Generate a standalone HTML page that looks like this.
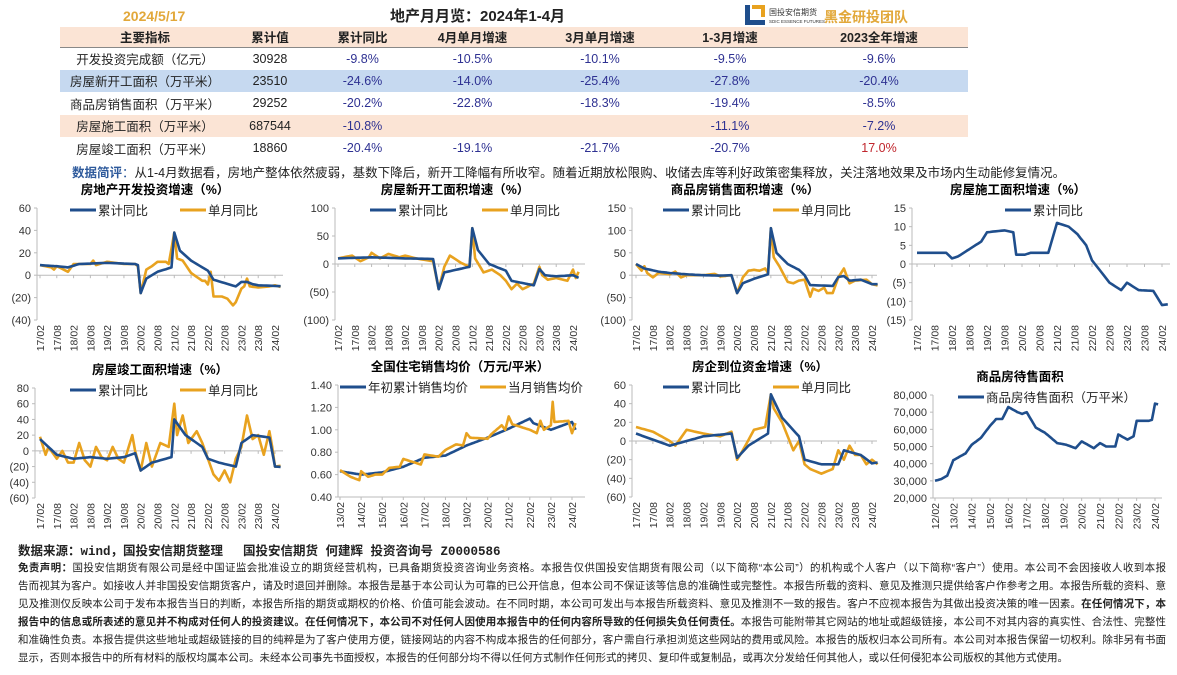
<!DOCTYPE html>
<html><head><meta charset="utf-8">
<style>
*{margin:0;padding:0;box-sizing:border-box}
body{width:1177px;height:675px;background:#fff;position:relative;overflow:hidden;font-family:"Liberation Sans","Noto Sans CJK SC",sans-serif;color:#222}
.abs{position:absolute}
table{position:absolute;left:60px;top:27px;width:908px;border-collapse:collapse;font-size:12.5px}
td{height:22.5px;text-align:center;padding:0;white-space:nowrap}
tr.h td{font-weight:bold;background:#fbe4d5;height:20px;border-bottom:1px solid #888}
tr.s td{background:#fbe4d5}
tr.b td{background:#c6d9f0}
.n{color:#2e3192}
.r{color:#c0262d}
.disc div{position:absolute;left:18px;width:1148px;font-size:10.5px;text-align:justify;text-align-last:justify;white-space:nowrap;color:#222;line-height:14px}
</style></head><body>
<div class="abs" style="left:123px;top:8px;font-size:14px;font-weight:bold;color:#e2a83a">2024/5/17</div>
<div class="abs" style="left:390px;top:5px;font-size:15px;font-weight:bold">地产月月览：2024年1-4月</div>
<div class="abs" style="left:745px;top:5px;width:20px;height:20px;border-left:5px solid #1f4e8c;border-bottom:5px solid #1f4e8c"></div>
<div class="abs" style="left:752px;top:5px;width:13px;height:12px;border-top:4px solid #e8a21f;border-right:4px solid #e8a21f"></div>
<div class="abs" style="left:769px;top:7px;font-size:8px;color:#333;white-space:nowrap">国投安信期货</div>
<div class="abs" style="left:769px;top:19px;font-size:4.5px;color:#333;white-space:nowrap">SDIC ESSENCE FUTURES</div>
<div class="abs" style="left:824px;top:7px;font-size:14px;font-weight:bold;color:#e2a83a">黑金研投团队</div>
<table>
<colgroup><col style="width:170px"><col style="width:80px"><col style="width:105px"><col style="width:115px"><col style="width:140px"><col style="width:120px"><col style="width:178px"></colgroup>
<tr class="h"><td>主要指标</td><td>累计值</td><td>累计同比</td><td>4月单月增速</td><td>3月单月增速</td><td>1-3月增速</td><td>2023全年增速</td></tr>
<tr><td>开发投资完成额（亿元）</td><td>30928</td><td class="n">-9.8%</td><td class="n">-10.5%</td><td class="n">-10.1%</td><td class="n">-9.5%</td><td class="n">-9.6%</td></tr>
<tr class="b"><td>房屋新开工面积（万平米）</td><td>23510</td><td class="n">-24.6%</td><td class="n">-14.0%</td><td class="n">-25.4%</td><td class="n">-27.8%</td><td class="n">-20.4%</td></tr>
<tr><td>商品房销售面积（万平米）</td><td>29252</td><td class="n">-20.2%</td><td class="n">-22.8%</td><td class="n">-18.3%</td><td class="n">-19.4%</td><td class="n">-8.5%</td></tr>
<tr class="s"><td>房屋施工面积（万平米）</td><td>687544</td><td class="n">-10.8%</td><td></td><td></td><td class="n">-11.1%</td><td class="n">-7.2%</td></tr>
<tr><td>房屋竣工面积（万平米）</td><td>18860</td><td class="n">-20.4%</td><td class="n">-19.1%</td><td class="n">-21.7%</td><td class="n">-20.7%</td><td class="r">17.0%</td></tr>
</table>
<div class="abs" style="left:72px;top:162px;font-size:12.5px"><b style="color:#2e5a9c">数据简评</b><span style="color:#2e5a9c">：</span>从1-4月数据看，房地产整体依然疲弱，基数下降后，新开工降幅有所收窄。随着近期放松限购、收储去库等利好政策密集释放，关注落地效果及市场内生动能修复情况。</div>

<svg id="ch" class="abs" style="left:0;top:0" width="1177" height="675" xmlns="http://www.w3.org/2000/svg"></svg>

<div class="abs" style="left:18px;top:540px;font-size:12.5px;font-weight:bold;font-family:'Liberation Mono','Noto Sans CJK SC',monospace">数据来源：wind，国投安信期货整理　 国投安信期货 何建辉 投资咨询号 Z0000586</div>
<div class="disc">
<div style="top:561px"><b>免责声明：</b>国投安信期货有限公司是经中国证监会批准设立的期货经营机构，已具备期货投资咨询业务资格。本报告仅供国投安信期货有限公司（以下简称“本公司”）的机构或个人客户（以下简称“客户”）使用。本公司不会因接收人收到本报</div>
<div style="top:579px">告而视其为客户。如接收人并非国投安信期货客户，请及时退回并删除。本报告是基于本公司认为可靠的已公开信息，但本公司不保证该等信息的准确性或完整性。本报告所载的资料、意见及推测只提供给客户作参考之用。本报告所载的资料、意</div>
<div style="top:597px">见及推测仅反映本公司于发布本报告当日的判断，本报告所指的期货或期权的价格、价值可能会波动。在不同时期，本公司可发出与本报告所载资料、意见及推测不一致的报告。客户不应视本报告为其做出投资决策的唯一因素。<b>在任何情况下，本</b></div>
<div style="top:615px"><b>报告中的信息或所表述的意见并不构成对任何人的投资建议。在任何情况下，本公司不对任何人因使用本报告中的任何内容所导致的任何损失负任何责任。</b>本报告可能附带其它网站的地址或超级链接，本公司不对其内容的真实性、合法性、完整性</div>
<div style="top:633px">和准确性负责。本报告提供这些地址或超级链接的目的纯粹是为了客户使用方便，链接网站的内容不构成本报告的任何部分，客户需自行承担浏览这些网站的费用或风险。本报告的版权归本公司所有。本公司对本报告保留一切权利。除非另有书面</div>
<div style="top:651px;text-align-last:left;width:auto">显示，否则本报告中的所有材料的版权均属本公司。未经本公司事先书面授权，本报告的任何部分均不得以任何方式制作任何形式的拷贝、复印件或复制品，或再次分发给任何其他人，或以任何侵犯本公司版权的其他方式使用。</div>
</div>

<script>
var svg=document.getElementById('ch');var out='';
var BL='#1f4e8c',OR='#e8a21f';
function lab17(){var a=[];for(var y=17;y<=24;y++){a.push(y+'/02');if(y<24)a.push(y+'/08');}return a;}
function labY(s,e){var a=[];for(var y=s;y<=e;y++)a.push((y<10?'0':'')+y+'/02');return a;}
function interp(k,n){var r=[];for(var m=0;m<=n;m++){for(var i=0;i<k.length-1;i++){if(m>=k[i][0]&&m<=k[i+1][0]){var t=(m-k[i][0])/((k[i+1][0]-k[i][0])||1);r.push([m,k[i][1]+t*(k[i+1][1]-k[i][1])]);break;}}}return r;}
function chart(c){
 var Y=function(v){return c.yt+(c.ymax-v)/(c.ymax-c.ymin)*(c.yb-c.yt);};
 var sp=(c.lx1-c.lx0)/(c.labels.length-1);
 var X=function(m){return c.lx0+m/c.ls*sp;};
 out+='<text x="'+c.tx+'" y="'+(c.yt-14)+'" font-size="12.5" font-weight="bold" text-anchor="middle">'+c.title+'</text>';
 out+='<line x1="'+c.ax+'" y1="'+c.yt+'" x2="'+c.ax+'" y2="'+c.yb+'" stroke="#bbb"/>';
 for(var v=c.ymax;v>=c.ymin-1e-9;v-=c.st){var y=Y(v);
  out+='<line x1="'+(c.ax-3)+'" y1="'+y+'" x2="'+c.ax+'" y2="'+y+'" stroke="#bbb"/>';
  out+='<text x="'+(c.ax-6)+'" y="'+(y+4)+'" font-size="11" text-anchor="end" fill="#333">'+c.fmt(v)+'</text>';}
 var z=c.ymin<0?Y(0):c.yb;
 out+='<line x1="'+c.ax+'" y1="'+z+'" x2="'+c.rx+'" y2="'+z+'" stroke="#bbb"/>';
 c.labels.forEach(function(l,i){var x=c.lx0+i*sp;
  out+='<line x1="'+x+'" y1="'+z+'" x2="'+x+'" y2="'+(z+3)+'" stroke="#bbb"/>';
  out+='<text transform="translate('+(x+4)+','+(c.yb+5)+') rotate(-90)" font-size="10.5" text-anchor="end" fill="#333">'+l+'</text>';});
 c.series.forEach(function(s){var p=interp(s.k,c.n).map(function(q){return X(q[0]).toFixed(1)+','+Y(q[1]).toFixed(1);}).join(' ');
  out+='<polyline points="'+p+'" fill="none" stroke="'+s.c+'" stroke-width="2.6" stroke-linejoin="round"/>';});
 c.leg.forEach(function(l){out+='<line x1="'+l[0]+'" y1="'+(c.yt+2)+'" x2="'+(l[0]+26)+'" y2="'+(c.yt+2)+'" stroke="'+l[2]+'" stroke-width="3"/><text x="'+(l[0]+28)+'" y="'+(c.yt+7)+'" font-size="12.5" fill="#222">'+l[1]+'</text>';});
}
var pf=function(v){v=Math.round(v);return v<0?'('+(-v)+')':''+v;};
var L=lab17();
chart({title:'房地产开发投资增速（%）',tx:155,ax:37,rx:283,yt:208,yb:320,ymax:60,ymin:-40,st:20,fmt:pf,labels:L,lx0:40,lx1:275,ls:6,n:86,
 leg:[[70,'累计同比',BL],[180,'单月同比',OR]],
 series:[{c:OR,k:[[0,9],[4,7],[5,5],[6,8],[10,3],[12,10],[18,10],[19,13],[20,9],[24,12],[30,10],[34,10],[35,8],[36,-16],[38,5],[40,8],[42,12],[45,12],[46,10],[48,38],[49,15],[51,13],[54,2],[58,-5],[59,-5],[59.5,-14],[61,3],[62,-19],[65,-19],[67,-21],[69,-27],[70,-24],[72,-12],[73,-10],[74,-3],[75,-10],[78,-11],[82,-10],[84,-9],[86,-10.5]]},
 {c:BL,k:[[0,9],[6,8],[10,7],[14,10],[24,11],[34,10],[35,9],[36,-16],[38,-3],[42,3],[47,7],[48,38],[50,22],[54,13],[60,4],[62,-4],[66,-7],[70,-10],[72,-6],[74,-6],[76,-8],[78,-9],[86,-9.8]]}]});
chart({title:'房屋新开工面积增速（%）',tx:455,ax:335,rx:585,yt:208,yb:320,ymax:100,ymin:-100,st:50,fmt:pf,labels:L,lx0:338,lx1:573,ls:6,n:86,
 leg:[[370,'累计同比',BL],[482,'单月同比',OR]],
 series:[{c:OR,k:[[0,10],[5,15],[8,5],[11,12],[12,20],[15,10],[18,18],[22,12],[24,15],[28,10],[30,8],[34,5],[36,-45],[38,-5],[40,15],[44,2],[47,-5],[48,64],[49,10],[52,-15],[55,-10],[58,-20],[60,-30],[62,-45],[64,-35],[66,-45],[68,-40],[70,-35],[72,-5],[73,-20],[75,-28],[78,-25],[82,-30],[84,-10],[85,-25],[86,-14]]},
 {c:BL,k:[[0,10],[12,12],[24,10],[34,9],[36,-45],[38,-15],[47,-5],[48,64],[50,25],[54,0],[60,-12],[62,-30],[70,-38],[72,-9],[74,-20],[78,-22],[84,-20],[86,-24.6]]}]});
chart({title:'商品房销售面积增速（%）',tx:745,ax:632,rx:877,yt:208,yb:320,ymax:150,ymin:-100,st:50,fmt:pf,labels:L,lx0:636,lx1:872,ls:6,n:86,
 leg:[[663,'累计同比',BL],[773,'单月同比',OR]],
 series:[{c:OR,k:[[0,25],[2,10],[3,20],[4,5],[6,-5],[8,5],[12,2],[14,8],[16,-5],[18,0],[24,0],[28,3],[30,-3],[34,0],[36,-40],[38,-5],[40,10],[42,12],[44,10],[46,15],[47,5],[48,105],[49,40],[51,20],[54,-15],[56,-18],[58,-12],[60,-10],[62,-48],[63,-30],[65,-35],[67,-28],[68,-40],[70,-40],[72,-5],[74,15],[76,-18],[78,-12],[82,-10],[84,-20],[86,-23]]},
 {c:BL,k:[[0,25],[3,15],[8,8],[12,5],[18,2],[24,0],[30,-1],[34,0],[36,-40],[38,-18],[42,-8],[47,2],[48,105],[50,50],[54,25],[58,12],[60,0],[62,-22],[70,-24],[72,-4],[74,-2],[76,-12],[80,-10],[84,-20],[86,-20]]}]});
chart({title:'房屋施工面积增速（%）',tx:1018,ax:912,rx:1170,yt:208,yb:320,ymax:15,ymin:-15,st:5,fmt:pf,labels:L,lx0:917,lx1:1162,ls:6,n:86,
 leg:[[1005,'累计同比',BL]],
 series:[{c:BL,k:[[0,3],[10,3],[12,1.5],[14,2],[18,4],[22,6],[24,8.5],[30,9],[33,8.5],[34,2.5],[37,2.5],[39,3],[45,3],[48,11],[52,10],[55,8],[58,5],[60,1],[63,-2],[66,-5],[70,-7],[72,-5],[76,-7],[81,-7.2],[84,-11],[86,-10.8]]}]});
chart({title:'房屋竣工面积增速（%）',tx:160,ax:35,rx:283,yt:388,yb:498,ymax:80,ymin:-60,st:20,fmt:pf,labels:L,lx0:40,lx1:275,ls:6,n:86,
 leg:[[70,'累计同比',BL],[180,'单月同比',OR]],
 series:[{c:OR,k:[[0,18],[2,-5],[3,5],[6,-10],[8,0],[10,-15],[12,-15],[14,10],[16,-12],[18,-20],[20,5],[22,-8],[24,-12],[26,5],[28,-10],[30,-15],[33,20],[34,0],[36,-25],[38,10],[40,-20],[43,10],[46,5],[48,60],[49,20],[51,45],[53,10],[56,25],[58,10],[60,-10],[62,-30],[64,-38],[66,-25],[68,-40],[70,-10],[72,5],[74,45],[76,15],[78,20],[80,-5],[82,25],[83,5],[84,-20],[86,-19]]},
 {c:BL,k:[[0,15],[6,-5],[12,-10],[18,-8],[24,-10],[30,-8],[34,-3],[36,-25],[40,-15],[47,-8],[48,40],[52,20],[58,5],[60,-10],[64,-15],[70,-20],[72,10],[76,20],[82,17],[84,-20],[86,-20.4]]}]});
chart({title:'全国住宅销售均价（万元/平米）',tx:460,ax:338,rx:585,yt:385,yb:497,ymax:1.4,ymin:0.4,st:0.2,fmt:function(v){return v.toFixed(2);},labels:labY(13,24),lx0:340,lx1:572,ls:12,n:134,
 leg:[[340,'年初累计销售均价',BL],[480,'当月销售均价',OR]],
 series:[{c:BL,k:[[0,0.63],[12,0.6],[24,0.62],[36,0.67],[48,0.75],[60,0.77],[72,0.86],[84,0.93],[96,1.01],[108,1.1],[110,1.06],[120,1.0],[132,1.07],[134,1.0]]},
 {c:OR,k:[[0,0.64],[6,0.58],[11,0.55],[12,0.63],[16,0.58],[20,0.6],[24,0.6],[28,0.66],[34,0.67],[36,0.74],[40,0.72],[46,0.69],[48,0.78],[56,0.76],[60,0.82],[66,0.87],[70,0.86],[72,0.97],[74,0.93],[84,0.92],[86,0.96],[92,1.04],[94,1.0],[96,1.12],[98,1.05],[108,1.0],[112,0.97],[114,1.08],[116,1.0],[120,1.04],[121,1.25],[122,1.07],[130,1.08],[132,0.97],[134,1.06]]}]});
chart({title:'房企到位资金增速（%）',tx:760,ax:632,rx:877,yt:385,yb:497,ymax:60,ymin:-60,st:20,fmt:pf,labels:L,lx0:636,lx1:872,ls:6,n:86,
 leg:[[663,'累计同比',BL],[773,'单月同比',OR]],
 series:[{c:OR,k:[[0,15],[6,10],[12,0],[14,-5],[18,12],[24,8],[30,5],[34,10],[36,-20],[38,-10],[42,12],[46,15],[48,50],[49,35],[52,20],[56,-10],[58,0],[60,-25],[62,-30],[66,-35],[70,-30],[72,-10],[74,-20],[76,-5],[78,-15],[80,-15],[82,-25],[84,-20],[86,-25]]},
 {c:BL,k:[[0,8],[12,-5],[24,5],[34,8],[36,-18],[40,-5],[47,8],[48,50],[52,25],[58,5],[60,-20],[66,-25],[72,-25],[74,-10],[80,-15],[84,-24],[86,-23]]}]});
chart({title:'商品房待售面积',tx:1020,ax:933,rx:1162,yt:395,yb:498,ymax:80,ymin:20,st:10,fmt:function(v){return Math.round(v)+',000';},labels:labY(12,24),lx0:935,lx1:1155,ls:12,n:146,
 leg:[[958,'商品房待售面积（万平米）',BL]],
 series:[{c:BL,k:[[0,30],[4,31],[8,33],[12,42],[16,44],[20,46],[24,51],[30,55],[36,62],[40,66],[44,66],[48,73],[54,70],[57,69],[60,70],[66,61],[72,58],[80,52],[86,51],[92,49],[96,53],[104,49],[108,52],[112,50],[118,50],[120,57],[126,54],[130,56],[132,65],[140,65],[142,65.5],[144,75],[146,74.5]]}]});
svg.innerHTML=out;
svg.querySelectorAll('text').forEach(function(t){t.setAttribute('font-family','Liberation Sans, Noto Sans CJK SC, sans-serif');});
</script>
</body></html>
